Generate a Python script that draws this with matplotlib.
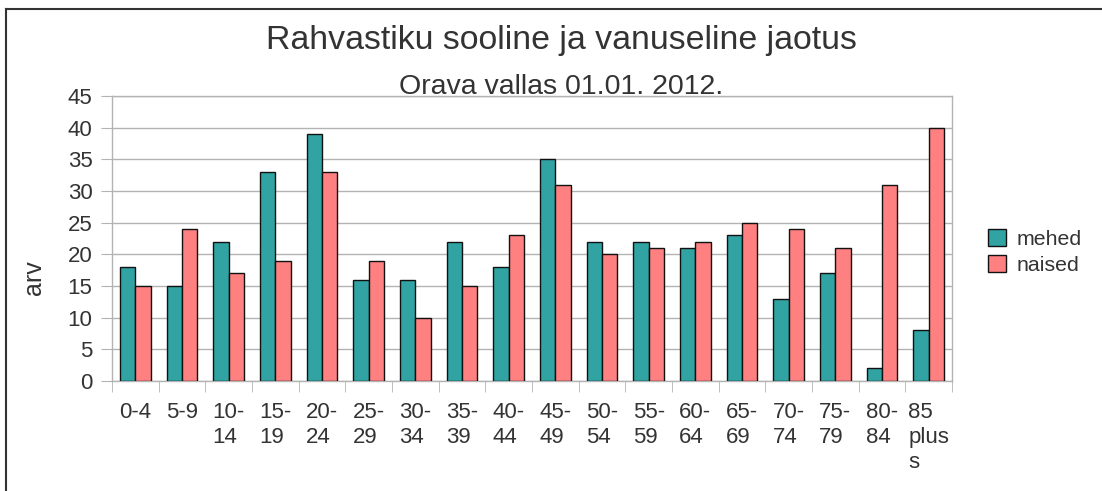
import matplotlib
matplotlib.use("Agg")
import matplotlib.pyplot as plt
import numpy as np
from matplotlib.lines import Line2D

plt.rcParams['font.family'] = ['Liberation Sans', 'DejaVu Sans']

categories = ["0-4", "5-9", "10-\n14", "15-\n19", "20-\n24", "25-\n29", "30-\n34", "35-\n39",
              "40-\n44", "45-\n49", "50-\n54", "55-\n59", "60-\n64", "65-\n69", "70-\n74",
              "75-\n79", "80-\n84", "85\nplus\ns"]
mehed = [18, 15, 22, 33, 39, 16, 16, 22, 18, 35, 22, 22, 21, 23, 13, 17, 2, 8]
naised = [15, 24, 17, 19, 33, 19, 10, 15, 23, 31, 20, 21, 22, 25, 24, 21, 31, 40]
yticks = list(range(0, 50, 5))

TXT = '#333333'
GRID = '#b3b3b3'

fig = plt.figure(figsize=(11.02, 4.91), dpi=100)
ax = fig.add_axes([112/1102, 1-381/491, (952-112)/1102, (381-96)/491])

x = np.arange(len(categories))
w = 0.33
ax.bar(x - w/2, mehed, w, color='#31a3a3', edgecolor='#111111', linewidth=1.0, label='mehed', zorder=3)
ax.bar(x + w/2, naised, w, color='#ff8080', edgecolor='#111111', linewidth=1.0, label='naised', zorder=3)

ax.set_xlim(-0.5, len(categories) - 0.5)
ax.set_ylim(0, 45)
ax.set_yticks(yticks)
ax.yaxis.grid(True, color=GRID, linewidth=1.0, zorder=0)
ax.tick_params(axis='y', length=8, color=GRID, labelsize=16, labelcolor=TXT, pad=6)

ax.set_xticks(x)
ax.set_xticklabels(categories, multialignment='left')
ax.set_xticks(np.arange(len(categories) + 1) - 0.5, minor=True)
ax.tick_params(axis='x', which='major', length=0, labelsize=16, labelcolor=TXT, pad=15)
ax.tick_params(axis='x', which='minor', length=8, color=GRID)
for lbl in ax.get_xticklabels():
    lbl.set_linespacing(1.25)

for s in ax.spines.values():
    s.set_color(GRID)
    s.set_linewidth(1.0)

fig.text(34/1102, 1-278/491, 'arv', rotation=90, ha='center', va='center', fontsize=18, color=TXT)

fig.text(561/1102, 1-40/491, 'Rahvastiku sooline ja vanuseline jaotus', ha='center', va='center',
         fontsize=24.4, color=TXT)
fig.text(561/1102, 1-94/491, 'Orava vallas 01.01. 2012.', ha='center', va='baseline',
         fontsize=20.5, color=TXT)

leg = ax.legend(loc='center left', bbox_to_anchor=(988/1102, 1-252/491), bbox_transform=fig.transFigure,
                frameon=False, fontsize=15.4, handlelength=0.85, handleheight=0.85, handletextpad=0.5,
                labelspacing=0.3, labelcolor=TXT, borderpad=0, borderaxespad=0)

fig.add_artist(Line2D([6/1102, 6/1102], [0, 1-9/491], transform=fig.transFigure, color='#333333', linewidth=1.5))
fig.add_artist(Line2D([6/1102, 1], [1-9/491, 1-9/491], transform=fig.transFigure, color='#333333', linewidth=1.5))

fig.savefig('out.png', dpi=100)
